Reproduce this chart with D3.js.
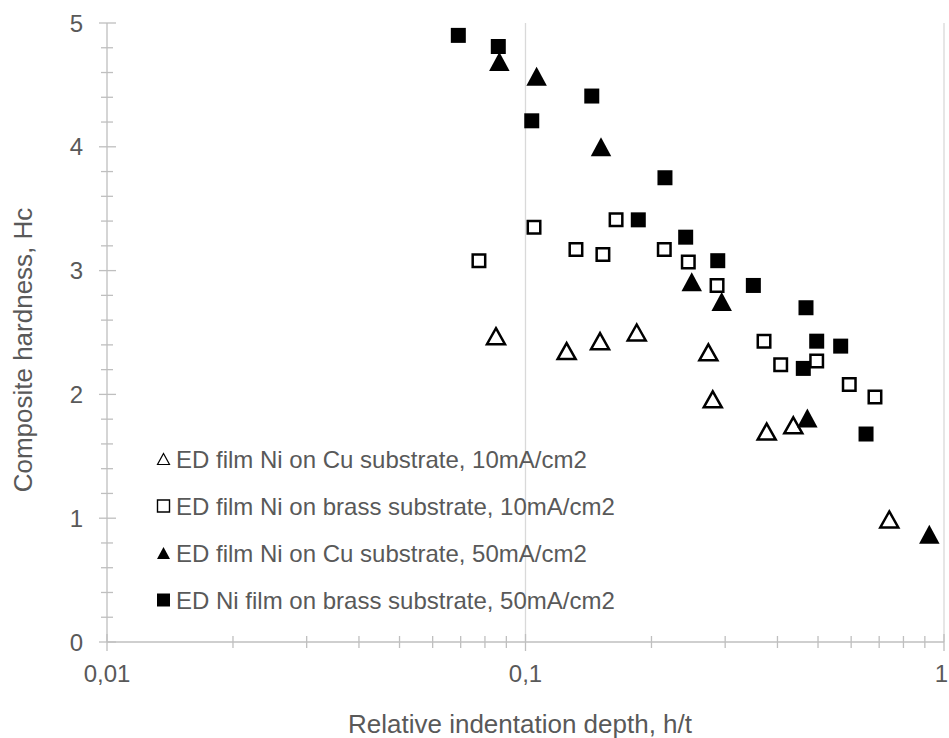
<!DOCTYPE html>
<html lang="en">
<head>
  <meta charset="utf-8">
  <title>Composite hardness vs relative indentation depth</title>
  <script src="https://d3js.org/d3.v7.min.js"></script>
  <style>
    body { margin: 0; background: #fff; }
    text { font-family: "Liberation Sans", Arial, sans-serif; fill: #595959; }
    .axis-line { stroke: #bfbfbf; stroke-width: 1.3; }
    .grid { stroke: #d9d9d9; stroke-width: 1.3; }
  </style>
</head>
<body>
<script>
  // series values: [h/t, Hc]
  const cu10 = [[0.085, 2.47], [0.1254, 2.35], [0.1507, 2.43], [0.1844, 2.5], [0.2735, 2.34],
                [0.2802, 1.96], [0.377, 1.7], [0.4364, 1.75], [0.74, 0.99]];
  const brass10 = [[0.0774, 3.08], [0.1048, 3.35], [0.132, 3.17], [0.1531, 3.13], [0.1646, 3.41],
                   [0.2146, 3.17], [0.2449, 3.07], [0.2869, 2.88], [0.3715, 2.43], [0.4072, 2.24],
                   [0.4964, 2.27], [0.5938, 2.08], [0.684, 1.98]];
  const cu50 = [[0.0866, 4.69], [0.1063, 4.57], [0.1515, 4.0], [0.2496, 2.91], [0.2943, 2.75],
                [0.4715, 1.81], [0.9224, 0.87]];
  const brass50 = [[0.0691, 4.9], [0.0861, 4.81], [0.1035, 4.21], [0.144, 4.41], [0.186, 3.41],
                   [0.2154, 3.75], [0.2414, 3.27], [0.288, 3.08], [0.3503, 2.88], [0.4611, 2.21],
                   [0.468, 2.7], [0.4964, 2.43], [0.5664, 2.39], [0.6512, 1.68]];

  const legendLabels = [
    "ED film Ni on Cu substrate, 10mA/cm2",
    "ED film Ni on brass substrate, 10mA/cm2",
    "ED film Ni on Cu substrate, 50mA/cm2",
    "ED Ni film on brass substrate, 50mA/cm2"
  ];
  const xTicks = [0.01, 0.1, 1];
  const xTickLabels = ["0,01", "0,1", "1"];
  const yTicks = [0, 1, 2, 3, 4, 5];

  const width = 949, height = 738;
  const svg = d3.select("body").append("svg")
    .attr("width", width)
    .attr("height", height);

  const x = d3.scaleLog().domain([0.01, 1]).range([107, 944]);
  const y = d3.scaleLinear().domain([0, 5]).range([642, 23]);

  // vertical gridlines at decades (except the axis one)
  svg.selectAll(".grid")
    .data(xTicks.slice(1))
    .enter().append("line")
    .attr("class", "grid")
    .attr("x1", d => x(d)).attr("x2", d => x(d))
    .attr("y1", y(5)).attr("y2", y(0));

  // minor x ticks 2..9 of each decade
  const xMinor = [];
  [0.01, 0.1].forEach(dec => { for (let k = 2; k <= 9; k++) xMinor.push(dec * k); });
  svg.selectAll(".xminor")
    .data(xMinor)
    .enter().append("line")
    .attr("class", "axis-line")
    .attr("x1", d => x(d)).attr("x2", d => x(d))
    .attr("y1", y(0) - 6).attr("y2", y(0) + 6);
  svg.selectAll(".xmajor")
    .data(xTicks)
    .enter().append("line")
    .attr("class", "axis-line")
    .attr("x1", d => x(d)).attr("x2", d => x(d))
    .attr("y1", y(0) - 8).attr("y2", y(0) + 9);

  // y ticks: major every 1, minor every 0.2
  const yMinor = d3.range(0, 5.001, 0.2).filter(v => Math.abs(v - Math.round(v)) > 0.01);
  svg.selectAll(".yminor")
    .data(yMinor)
    .enter().append("line")
    .attr("class", "axis-line")
    .attr("x1", x(0.01) - 6).attr("x2", x(0.01) + 6)
    .attr("y1", d => y(d)).attr("y2", d => y(d));
  svg.selectAll(".ymajor")
    .data(yTicks)
    .enter().append("line")
    .attr("class", "axis-line")
    .attr("x1", x(0.01) - 8).attr("x2", x(0.01) + 9)
    .attr("y1", d => y(d)).attr("y2", d => y(d));

  // axis lines
  svg.append("line").attr("class", "axis-line")
    .attr("x1", x(0.01)).attr("x2", x(1)).attr("y1", y(0)).attr("y2", y(0));
  svg.append("line").attr("class", "axis-line")
    .attr("x1", x(0.01)).attr("x2", x(0.01)).attr("y1", y(0)).attr("y2", y(5));

  // tick labels (last one pulled in so it stays on the page)
  svg.selectAll(".xlab")
    .data(xTicks)
    .enter().append("text")
    .attr("x", (d, i) => i === xTicks.length - 1 ? x(d) + 4 : x(d))
    .attr("y", y(0) + 40)
    .attr("text-anchor", (d, i) => i === xTicks.length - 1 ? "end" : "middle")
    .style("font-size", "24px")
    .text((d, i) => xTickLabels[i]);
  svg.selectAll(".ylab")
    .data(yTicks)
    .enter().append("text")
    .attr("x", x(0.01) - 24)
    .attr("y", d => y(d) + 8.5)
    .attr("text-anchor", "end")
    .style("font-size", "24px")
    .text(d => d);

  // axis titles
  svg.append("text")
    .attr("x", 520).attr("y", 733)
    .attr("text-anchor", "middle")
    .style("font-size", "26px")
    .text("Relative indentation depth, h/t");
  svg.append("text")
    .attr("transform", "translate(32,350) rotate(-90)")
    .attr("text-anchor", "middle")
    .style("font-size", "26px")
    .text("Composite hardness, Hc");

  // marker shapes
  const tri = (w, h) => `M0,${-h / 2}L${w / 2},${h / 2}L${-w / 2},${h / 2}Z`;
  const sq = s => `M${-s / 2},${-s / 2}h${s}v${s}h${-s}Z`;

  function drawSeries(data, path, fill, strokeW) {
    svg.append("g").selectAll("path")
      .data(data)
      .enter().append("path")
      .attr("transform", d => `translate(${x(d[0])},${y(d[1])})`)
      .attr("d", path)
      .attr("fill", fill)
      .attr("stroke", "black")
      .attr("stroke-width", strokeW)
      .attr("stroke-linejoin", "miter");
  }

  drawSeries(cu10, tri(18, 16), "white", 2.5);
  drawSeries(brass50, sq(15), "black", 0);
  drawSeries(brass10, sq(12.5), "white", 2.5);
  drawSeries(cu50, tri(20.5, 19), "black", 0);

  // legend
  const legendY = [459, 506, 553, 600];
  const legendShapes = [
    { d: tri(12, 11), fill: "white", sw: 1.2 },
    { d: sq(12), fill: "white", sw: 1.4 },
    { d: tri(13, 12), fill: "black", sw: 0 },
    { d: sq(13), fill: "black", sw: 0 }
  ];
  const legend = svg.append("g");
  legend.selectAll("path")
    .data(legendShapes)
    .enter().append("path")
    .attr("transform", (d, i) => `translate(163.5,${legendY[i]})`)
    .attr("d", d => d.d)
    .attr("fill", d => d.fill)
    .attr("stroke", "black")
    .attr("stroke-width", d => d.sw);
  legend.selectAll("text")
    .data(legendLabels)
    .enter().append("text")
    .attr("x", 176)
    .attr("y", (d, i) => legendY[i] + 8.5)
    .style("font-size", "24px")
    .text(d => d);
</script>
</body>
</html>
